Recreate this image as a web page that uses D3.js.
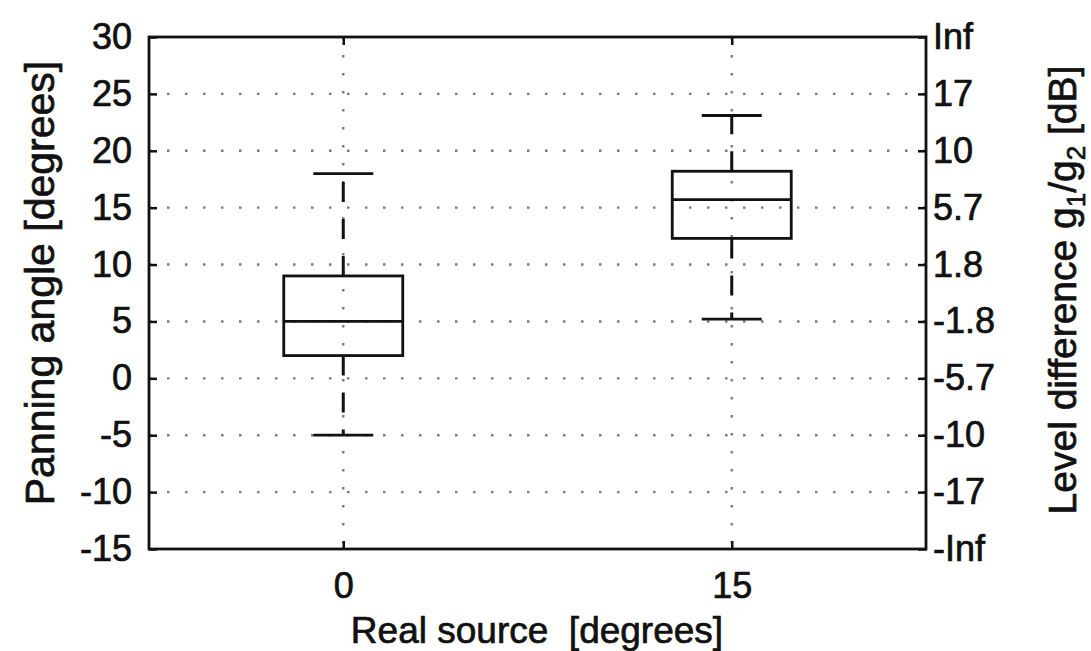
<!DOCTYPE html>
<html>
<head>
<meta charset="utf-8">
<script src="https://cdn.jsdelivr.net/npm/d3@7"></script>
<style>
  body { margin: 0; background: #fff; }
  svg text { font-family: "Liberation Sans", Arial, Helvetica, sans-serif; fill: #111; stroke: #111; stroke-width: 0.7px; }
</style>
</head>
<body>
<svg id="chart" width="1091" height="651"></svg>
<script>
// box plot data
var sources = [0, 15];              // real source [degrees]
var whiskLow = [-5, 5.2];
var q1 = [2, 12.3];
var medians = [5, 15.7];
var q3 = [9, 18.2];
var whiskHigh = [18, 23.1];

// axis ticks
var yTicks = [-15, -10, -5, 0, 5, 10, 15, 20, 25, 30];
var dbLabels = ["-Inf", "-17", "-10", "-5.7", "-1.8", "1.8", "5.7", "10", "17", "Inf"];

var svg = d3.select('#chart');
// plot box edges (note: "top" is taken by window.top)
var pL = 149, pR = 926, pT = 37, pB = 549;

var x = d3.scaleLinear().domain([-7.5, 22.5]).range([pL, pR]);
var y = d3.scaleLinear().domain([-15, 30]).range([pB, pT]);

var ink = '#111';
var boxW = 119, capW = 60;

// dotted grid
var grid = svg.append('g');
grid.selectAll('line.h')
  .data(yTicks.slice(1, -1))
  .enter().append('line')
  .attr('x1', pL).attr('x2', pR)
  .attr('y1', function(d) { return y(d) })
  .attr('y2', function(d) { return y(d) })
  .style('stroke', '#7a7a7a')
  .style('stroke-width', 2.4)
  .style('stroke-dasharray', '2.5,15.5');
grid.selectAll('line.v')
  .data(sources)
  .enter().append('line')
  .attr('x1', function(d) { return x(d) })
  .attr('x2', function(d) { return x(d) })
  .attr('y1', pT).attr('y2', pB)
  .style('stroke', '#7a7a7a')
  .style('stroke-width', 2.4)
  .style('stroke-dasharray', '2.5,15.5');

// axes (ticks point inward like matlab), plain hyphen for minus
var yAxisL = d3.axisLeft(y).tickValues(yTicks).tickSizeInner(-8).tickSizeOuter(0).tickPadding(17)
  .tickFormat(function(d) { return String(d) });
var yAxisR = d3.axisRight(y).tickValues(yTicks).tickSizeInner(-8).tickSizeOuter(0).tickPadding(16)
  .tickFormat(function(d, i) { return dbLabels[i] });
var xAxisB = d3.axisBottom(x).tickValues(sources).tickSizeInner(-8).tickSizeOuter(0).tickPadding(23);
var xAxisT = d3.axisTop(x).tickValues(sources).tickSizeInner(-8).tickSizeOuter(0).tickFormat('');

function styleAxis(g) {
  g.select('.domain').remove();
  g.selectAll('line').style('stroke', ink).style('stroke-width', 2.5);
  g.selectAll('text').style('font-size', '36px').style('fill', ink);
}

svg.append('g').attr('transform', 'translate(' + pL + ',0)').call(yAxisL).call(styleAxis)
  .selectAll('text').attr('text-anchor', 'end');
svg.append('g').attr('transform', 'translate(' + pR + ',0)').call(yAxisR).call(styleAxis)
  .selectAll('text').attr('dx', -9);
svg.append('g').attr('transform', 'translate(0,' + pB + ')').call(xAxisB).call(styleAxis);
svg.append('g').attr('transform', 'translate(0,' + pT + ')').call(xAxisT).call(styleAxis);

// frame
svg.append('rect')
  .attr('x', pL).attr('y', pT)
  .attr('width', pR - pL).attr('height', pB - pT)
  .style('fill', 'none').style('stroke', ink).style('stroke-width', 2.8);

// boxes
var boxes = svg.append('g').selectAll('g')
  .data(sources)
  .enter().append('g');

boxes.append('line') // upper whisker
  .attr('x1', function(d) { return x(d) }).attr('x2', function(d) { return x(d) })
  .attr('y1', function(d, i) { return y(q3[i]) })
  .attr('y2', function(d, i) { return y(whiskHigh[i]) })
  .style('stroke', ink).style('stroke-width', 3).style('stroke-dasharray', '20,17');
boxes.append('line') // lower whisker
  .attr('x1', function(d) { return x(d) }).attr('x2', function(d) { return x(d) })
  .attr('y1', function(d, i) { return y(q1[i]) })
  .attr('y2', function(d, i) { return y(whiskLow[i]) })
  .style('stroke', ink).style('stroke-width', 3).style('stroke-dasharray', '20,17');

boxes.append('line')
  .attr('x1', function(d) { return x(d) - capW / 2 }).attr('x2', function(d) { return x(d) + capW / 2 })
  .attr('y1', function(d, i) { return y(whiskHigh[i]) })
  .attr('y2', function(d, i) { return y(whiskHigh[i]) })
  .style('stroke', ink).style('stroke-width', 2.8);
boxes.append('line')
  .attr('x1', function(d) { return x(d) - capW / 2 }).attr('x2', function(d) { return x(d) + capW / 2 })
  .attr('y1', function(d, i) { return y(whiskLow[i]) })
  .attr('y2', function(d, i) { return y(whiskLow[i]) })
  .style('stroke', ink).style('stroke-width', 2.8);

boxes.append('rect')
  .attr('x', function(d) { return x(d) - boxW / 2 })
  .attr('y', function(d, i) { return y(q3[i]) })
  .attr('width', boxW)
  .attr('height', function(d, i) { return y(q1[i]) - y(q3[i]) })
  .style('fill', 'none').style('stroke', ink).style('stroke-width', 2.8);
boxes.append('line')
  .attr('x1', function(d) { return x(d) - boxW / 2 }).attr('x2', function(d) { return x(d) + boxW / 2 })
  .attr('y1', function(d, i) { return y(medians[i]) })
  .attr('y2', function(d, i) { return y(medians[i]) })
  .style('stroke', ink).style('stroke-width', 2.8);

// axis titles
svg.append('text')
  .attr('x', 537).attr('y', 643)
  .attr('text-anchor', 'middle')
  .attr('xml:space', 'preserve')
  .style('font-size', '37px')
  .text('Real source  [degrees]');

svg.append('text')
  .attr('transform', 'translate(54,' + 283 + ') rotate(-90)')
  .attr('text-anchor', 'middle')
  .style('font-size', '41px')
  .text('Panning angle [degrees]');

var rt = svg.append('text')
  .attr('transform', 'translate(1076,' + 290 + ') rotate(-90)')
  .attr('text-anchor', 'middle')
  .style('font-size', '39px');
rt.append('tspan').text('Level difference g');
rt.append('tspan').attr('dy', 9).style('font-size', '26px').text('1');
rt.append('tspan').attr('dy', -9).text('/g');
rt.append('tspan').attr('dy', 9).style('font-size', '26px').text('2');
rt.append('tspan').attr('dy', -9).text(' [dB]');
</script>
</body>
</html>
